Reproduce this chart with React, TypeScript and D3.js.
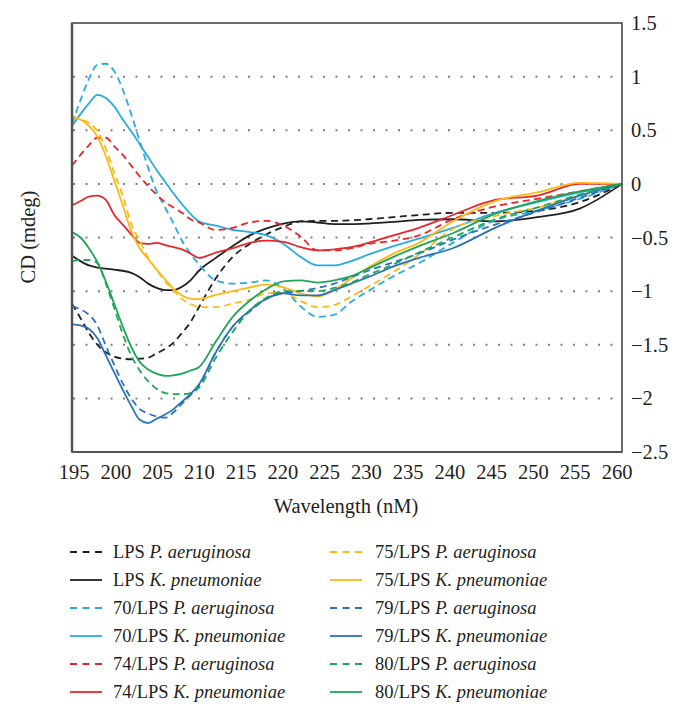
import React from "react";
import * as d3 from "d3";

const wavelengths = [195,196,197,198,199,200,201,202,203,204,205,206,207,208,209,210,212,214,216,218,220,222,224,226,228,230,233,236,240,245,250,255,260];

const lpsPA = [-1.12,-1.25,-1.39,-1.5,-1.57,-1.61,-1.63,-1.635,-1.63,-1.62,-1.58,-1.54,-1.48,-1.39,-1.29,-1.15,-0.88,-0.68,-0.56,-0.47,-0.4,-0.35,-0.345,-0.345,-0.34,-0.33,-0.31,-0.29,-0.27,-0.27,-0.25,-0.17,0];
const lpsKP = [-0.67,-0.72,-0.76,-0.78,-0.79,-0.8,-0.81,-0.83,-0.87,-0.93,-0.97,-0.99,-0.99,-0.96,-0.9,-0.81,-0.69,-0.58,-0.48,-0.415,-0.37,-0.35,-0.36,-0.375,-0.375,-0.37,-0.355,-0.335,-0.33,-0.35,-0.31,-0.23,0];
const p70PA = [0.56,0.78,0.98,1.11,1.12,1.05,0.88,0.65,0.4,0.15,-0.07,-0.22,-0.37,-0.53,-0.65,-0.75,-0.9,-0.93,-0.92,-0.9,-0.98,-1.14,-1.24,-1.22,-1.1,-1.0,-0.86,-0.74,-0.55,-0.34,-0.25,-0.14,0];
const p70KP = [0.54,0.65,0.75,0.83,0.8,0.72,0.6,0.49,0.37,0.25,0.13,0.02,-0.09,-0.19,-0.28,-0.35,-0.39,-0.43,-0.45,-0.48,-0.56,-0.68,-0.76,-0.76,-0.72,-0.66,-0.58,-0.51,-0.41,-0.27,-0.17,-0.08,0];
const p74PA = [0.17,0.27,0.36,0.43,0.43,0.35,0.27,0.17,0.07,-0.02,-0.1,-0.17,-0.22,-0.27,-0.33,-0.36,-0.43,-0.41,-0.36,-0.345,-0.39,-0.49,-0.62,-0.62,-0.6,-0.56,-0.53,-0.48,-0.33,-0.21,-0.14,-0.07,0];
const p74KP = [-0.2,-0.16,-0.12,-0.11,-0.15,-0.29,-0.38,-0.47,-0.55,-0.56,-0.55,-0.57,-0.59,-0.61,-0.65,-0.69,-0.64,-0.6,-0.55,-0.53,-0.54,-0.59,-0.62,-0.61,-0.59,-0.55,-0.48,-0.41,-0.29,-0.15,-0.11,0.0,0];
const p75PA = [0.63,0.6,0.57,0.49,0.33,0.1,-0.11,-0.37,-0.53,-0.69,-0.8,-0.91,-0.99,-1.075,-1.12,-1.145,-1.15,-1.115,-1.08,-1.02,-1.015,-1.09,-1.15,-1.13,-1.05,-0.96,-0.82,-0.66,-0.42,-0.3,-0.22,-0.11,0];
const p75KP = [0.63,0.6,0.54,0.44,0.26,0.03,-0.2,-0.44,-0.6,-0.7,-0.8,-0.89,-0.98,-1.04,-1.07,-1.075,-1.035,-1.0,-0.965,-0.94,-0.965,-1.02,-1.05,-0.99,-0.88,-0.78,-0.65,-0.55,-0.35,-0.16,-0.08,0.01,0];
const p79PA = [-1.14,-1.17,-1.22,-1.32,-1.51,-1.69,-1.86,-2.0,-2.1,-2.14,-2.17,-2.18,-2.13,-2.05,-1.97,-1.88,-1.57,-1.33,-1.19,-1.07,-1.02,-1.0,-0.97,-0.93,-0.87,-0.81,-0.73,-0.65,-0.52,-0.38,-0.26,-0.13,0];
const p79KP = [-1.31,-1.32,-1.35,-1.44,-1.6,-1.76,-1.92,-2.07,-2.2,-2.23,-2.19,-2.15,-2.1,-2.03,-1.96,-1.87,-1.57,-1.33,-1.18,-1.07,-1.02,-1.04,-1.04,-0.99,-0.93,-0.87,-0.77,-0.69,-0.6,-0.41,-0.25,-0.11,0];
const p80PA = [-0.72,-0.71,-0.71,-0.74,-0.93,-1.16,-1.4,-1.6,-1.74,-1.84,-1.91,-1.95,-1.96,-1.96,-1.95,-1.9,-1.62,-1.38,-1.18,-1.06,-1.0,-1.0,-1.0,-0.97,-0.92,-0.85,-0.75,-0.64,-0.5,-0.33,-0.22,-0.1,0];
const p80KP = [-0.45,-0.5,-0.6,-0.73,-0.91,-1.12,-1.33,-1.52,-1.66,-1.73,-1.77,-1.79,-1.785,-1.77,-1.74,-1.71,-1.47,-1.24,-1.09,-0.98,-0.91,-0.9,-0.92,-0.9,-0.86,-0.79,-0.68,-0.58,-0.46,-0.28,-0.16,-0.07,0];

const seriesNames = ["LPS|P. aeruginosa","LPS|K. pneumoniae","70/LPS|P. aeruginosa","70/LPS|K. pneumoniae","74/LPS|P. aeruginosa","74/LPS|K. pneumoniae","75/LPS|P. aeruginosa","75/LPS|K. pneumoniae","79/LPS|P. aeruginosa","79/LPS|K. pneumoniae","80/LPS|P. aeruginosa","80/LPS|K. pneumoniae"];
const seriesValues = [lpsPA, lpsKP, p70PA, p70KP, p74PA, p74KP, p75PA, p75KP, p79PA, p79KP, p80PA, p80KP];
const seriesColors = ["#231f20","#231f20","#29abe2","#29abe2","#e8262b","#e8262b","#fdb913","#fdb913","#2a72bb","#2a72bb","#1fa557","#1fa557"];
const seriesDashed = [true,false,true,false,true,false,true,false,true,false,true,false];

const xTicks = [195,200,205,210,215,220,225,230,235,240,245,250,255,260];
const yTicks = [1.5,1,0.5,0,-0.5,-1,-1.5,-2,-2.5];
const gridValues = [1,0.5,0,-0.5,-1,-1.5,-2];

const FONT = "'Liberation Serif', 'Times New Roman', serif";

export default function App() {
  const left = 72, right = 622, top = 23, bottom = 452;
  const x = d3.scaleLinear().domain([195, 260]).range([left, right]);
  const xLab = d3.scaleLinear().domain([195, 260]).range([74, 617]);
  const y = d3.scaleLinear().domain([-2.5, 1.5]).range([bottom, top]);
  const line = d3.line<number>()
    .x((_, i) => x(wavelengths[i]))
    .y((d) => y(d))
    .curve(d3.curveMonotoneX);

  const legendRows = [552, 580, 608, 636, 664, 692];

  return (
    <svg width={686} height={716} style={{ position: "absolute", left: 0, top: 0, background: "#fff" }} fontFamily={FONT}>
      <rect x={0} y={0} width={686} height={716} fill="#fff" />
      {gridValues.map((g) => (
        <line key={g} x1={left + 1} x2={right} y1={y(g)} y2={y(g)} stroke="#808080" strokeWidth={2} strokeDasharray="2 10.5" />
      ))}
      <g fill="none" strokeWidth={1.8} strokeLinejoin="round">
        {seriesValues.map((vals, i) => (
          <path key={i} d={line(vals) || ""} stroke={seriesColors[i]} strokeDasharray={seriesDashed[i] ? "7 4.5" : undefined} />
        ))}
      </g>
      <rect x={left} y={top} width={right - left} height={bottom - top} fill="none" stroke="#3c3c3c" strokeWidth={1.5} />
      <line x1={left} x2={left} y1={top} y2={bottom} stroke="#555" strokeWidth={2.5} />
      <line x1={left} x2={right} y1={bottom} y2={bottom} stroke="#555" strokeWidth={2} />
      {xTicks.map((t) => (
        <text key={t} x={xLab(t)} y={479} fontSize={20.5} textAnchor="middle" fill="#231f20">{t}</text>
      ))}
      {yTicks.map((t) => (
        <text key={t} x={631} y={y(t) + 7} fontSize={20.5} fill="#231f20">{t < 0 ? "\u2212" + String(Math.abs(t)) : String(t)}</text>
      ))}
      <text x={346} y={513} fontSize={20.5} textAnchor="middle" fill="#231f20">Wavelength (nM)</text>
      <text transform="translate(35,237) rotate(-90)" fontSize={20.5} textAnchor="middle" fill="#231f20">CD (mdeg)</text>
      {seriesNames.map((nm, i) => {
        const col = Math.floor(i / 6);
        const row = i % 6;
        const lx = col === 0 ? 70 : 330;
        const tx = col === 0 ? 113 : 375;
        const ly = legendRows[row];
        const [pre, sp] = nm.split("|");
        return (
          <g key={nm}>
            <line x1={lx} x2={lx + 32} y1={ly} y2={ly} stroke={seriesColors[i]} strokeWidth={1.8} strokeDasharray={seriesDashed[i] ? "7 5.5" : undefined} />
            <text x={tx} y={ly + 6} fontSize={18.5} fill="#231f20">
              {pre} <tspan fontStyle="italic">{sp}</tspan>
            </text>
          </g>
        );
      })}
    </svg>
  );
}
